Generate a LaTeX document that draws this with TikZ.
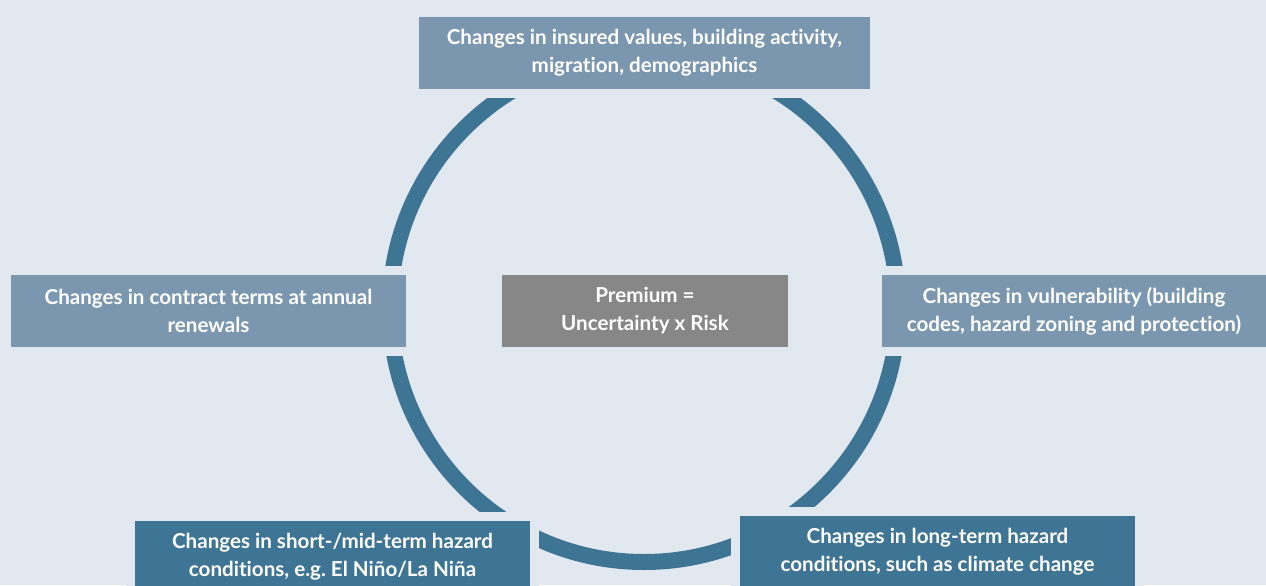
\documentclass[tikz,border=0pt]{standalone}
\usepackage{fontspec}
\setmainfont{Lato}[Ligatures=NoCommon]
\definecolor{bgc}{HTML}{E1E8F0}
\definecolor{lightbox}{HTML}{7A97AF}
\definecolor{darkbox}{HTML}{3E7494}
\definecolor{greybox}{HTML}{878787}
\begin{document}
\begin{tikzpicture}[x=0.5pt,y=-0.5pt,
  box/.style={fill=#1, text=white, align=center, inner sep=0pt,
    font=\fontsize{10.3}{14}\selectfont\bfseries, minimum height=36pt,
    preaction={draw=bgc, line width=9pt}}]
\fill[bgc] (0,0) rectangle (1266,585);
\useasboundingbox (0,0) rectangle (1266,585);
% ring
\draw[darkbox, line width=8pt] (644,308) circle[radius=254];
\node[box=lightbox, minimum width=225.5pt] (values) at (644.5,53) {Changes in insured values, building activity,\\migration, demographics};
\node[box=lightbox, minimum width=197.5pt] (contract) at (208.5,311) {Changes in contract terms at annual\\renewals};
\node[box=lightbox, minimum width=192pt] (vulner) at (1074,311) {Changes in vulnerability (building\\codes, hazard zoning and protection)};
\node[box=greybox, minimum width=143pt] (premium) at (645,311) {Premium =\\Uncertainty x Risk};
\node[box=darkbox, minimum width=197.5pt] (shortterm) at (332.5,557) {Changes in short-/mid-term hazard\\conditions, e.g.\ El Niño/La Niña};
\node[box=darkbox, minimum width=197.5pt] (longterm) at (937.5,552) {Changes in long-term hazard\\conditions, such as climate change};
\end{tikzpicture}
\end{document}
